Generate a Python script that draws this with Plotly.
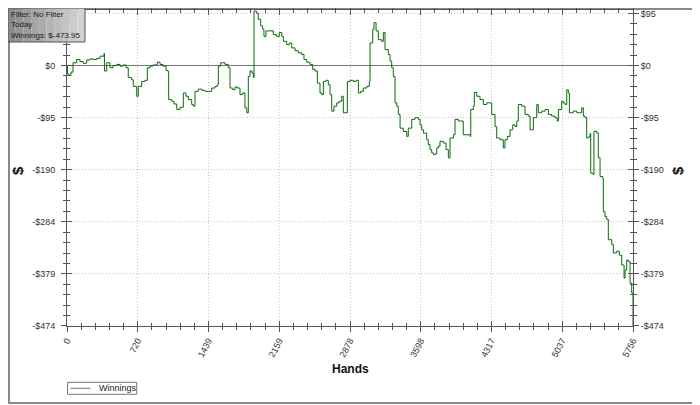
import plotly.graph_objects as go

# --- данные ---
hands = [0, 5, 20, 41, 61, 99, 132, 166, 200, 234, 264, 302, 336, 366, 376, 381, 404, 437, 468, 505,
         539, 573, 600, 623, 658, 674, 709, 725, 760, 793, 817, 844, 875, 918, 946, 976, 1007, 1027, 1034, 1065,
         1088, 1116, 1149, 1183, 1210, 1234, 1268, 1284, 1302, 1335, 1370, 1403, 1437, 1472, 1505, 1529, 1539, 1563, 1607, 1640,
         1658, 1685, 1709, 1732, 1759, 1787, 1810, 1828, 1844, 1861, 1881, 1895, 1902, 1929, 1945, 1970, 1990, 2003, 2024, 2064,
         2098, 2133, 2159, 2184, 2200, 2234, 2261, 2285, 2319, 2352, 2387, 2410, 2438, 2471, 2499, 2522, 2546, 2573, 2590, 2607,
         2634, 2657, 2675, 2692, 2715, 2743, 2769, 2794, 2810, 2837, 2851, 2878, 2912, 2939, 2963, 2987, 3013, 3048, 3074, 3082,
         3109, 3122, 3143, 3166, 3200, 3217, 3234, 3268, 3285, 3302, 3318, 3336, 3353, 3369, 3387, 3420, 3455, 3471, 3506, 3539,
         3573, 3590, 3607, 3624, 3658, 3674, 3692, 3709, 3725, 3743, 3760, 3776, 3793, 3827, 3854, 3878, 3895, 3929, 3946, 3980,
         4014, 4030, 4065, 4099, 4106, 4132, 4142, 4167, 4200, 4234, 4268, 4302, 4319, 4353, 4370, 4404, 4437, 4454, 4478, 4505,
         4533, 4556, 4574, 4590, 4624, 4658, 4691, 4709, 4743, 4777, 4793, 4828, 4861, 4895, 4929, 4963, 4986, 4997, 5031, 5047,
         5065, 5082, 5088, 5098, 5109, 5149, 5184, 5217, 5234, 5251, 5268, 5285, 5301, 5319, 5326, 5349, 5359, 5387, 5403, 5421,
         5448, 5454, 5471, 5489, 5505, 5540, 5556, 5590, 5617, 5641, 5665, 5675, 5692, 5708, 5726, 5743, 5756]
winnings = [0, -15, -18, -12, 5, 11, 7, 4, 10, 12, 11, 13, 17, 17, 22, -10, 5, -4, 0, 2,
            -1, 1, -4, -22, -26, -38, -56, -38, -29, -27, -4, -1, 1, 6, 2, -1, -9, -11, -62, -65,
            -70, -80, -76, -50, -56, -62, -71, -74, -47, -43, -45, -47, -47, -41, -38, -35, -1, 5, 2, -4,
            -41, -44, -39, -41, -53, -50, -77, -86, -20, -10, -14, -22, 99, 95, 84, 72, 66, 53, 63, 63,
            56, 53, 60, 53, 44, 38, 41, 32, 27, 23, 20, 11, 6, 2, -7, -10, -32, -50, -53, -29,
            -27, -35, -53, -83, -74, -68, -65, -56, -86, -86, -29, -27, -29, -27, -50, -47, -41, -38, -29, 41,
            66, 78, 63, 47, 44, 60, 29, 20, 8, -4, -20, -68, -74, -89, -114, -120, -129, -114, -98, -95,
            -98, -108, -117, -123, -135, -144, -153, -159, -162, -161, -150, -147, -138, -141, -153, -168, -132, -126, -98, -101,
            -101, -126, -126, -129, -80, -74, -49, -56, -62, -71, -68, -68, -89, -111, -132, -135, -150, -135, -129, -117,
            -108, -111, -101, -71, -74, -89, -92, -117, -95, -71, -86, -83, -80, -89, -92, -95, -101, -80, -65, -68,
            -71, -44, -44, -50, -86, -83, -86, -86, -77, -92, -95, -132, -130, -124, -196, -198, -120, -123, -168, -202,
            -205, -266, -275, -280, -317, -326, -341, -338, -345, -363, -387, -372, -354, -357, -396, -414, -473.95]

x_ticks = [0, 719.5, 1439, 2158.5, 2878, 3597.5, 4317, 5036.5, 5756]
x_labels = ["0", "720", "1439", "2159", "2878", "3598", "4317", "5037", "5756"]
y_ticks = [94.79, 0, -94.79, -189.58, -284.37, -379.16, -473.95]
y_labels = ["$95", "$0", "-$95", "-$190", "-$284", "-$379", "-$474"]

FONT = "Liberation Sans, Arial, sans-serif"
AXC = "#555555"
GRID = "#c4c4c4"
LINE_C = "#0a6b0a"
TF = dict(family=FONT, size=9, color="#333333")
XR = [0, 5756]
YR = [-474, 101]

fig = go.Figure()
fig.add_trace(go.Scatter(x=hands, y=winnings, mode="lines", line_shape="hv",
                         line=dict(color=LINE_C, width=1), name="Winnings", showlegend=False))
# невидимые копии для правой оси и для внутренних засечек
fig.add_trace(go.Scatter(x=hands, y=winnings, mode="lines", line=dict(width=0),
                         opacity=0, yaxis="y2", showlegend=False, hoverinfo="skip"))
fig.add_trace(go.Scatter(x=hands, y=winnings, mode="lines", line=dict(width=0),
                         opacity=0, xaxis="x2", yaxis="y3", showlegend=False, hoverinfo="skip"))

ymin_out = dict(tick0=0, dtick=18.958, ticks="outside", ticklen=3, tickcolor=AXC, showgrid=False)
ymin_in = dict(ymin_out, ticks="inside")
xmin_out = dict(tick0=0, dtick=143.9, ticks="outside", ticklen=3, tickcolor=AXC, showgrid=False)
xmin_in = dict(xmin_out, ticks="inside")

# слева верхняя метка закрыта плашкой фильтра
left_labels = [""] + y_labels[1:]

yax = dict(range=YR, tickvals=y_ticks, ticktext=left_labels, ticks="outside", ticklen=5,
           tickcolor=AXC, showline=True, linecolor=AXC, linewidth=1, automargin=False,
           showgrid=True, gridcolor=GRID, griddash="1px,2px", gridwidth=1,
           zeroline=True, zerolinecolor="#777777", zerolinewidth=1,
           tickfont=TF, ticklabelstandoff=4, minor=ymin_out)

fig.update_layout(
    width=692, height=397,
    margin=dict(l=59, r=67, t=2, b=79),
    paper_bgcolor="white", plot_bgcolor="white",
    font=dict(family=FONT, size=9, color="#333333"),
    xaxis=dict(range=XR, tickvals=x_ticks, ticktext=x_labels, tickangle=-62, automargin=False,
               ticks="outside", ticklen=5, tickcolor=AXC, showline=True, linecolor=AXC,
               mirror="ticks", showgrid=True, gridcolor=GRID, griddash="1px,2px", zeroline=False,
               tickfont=TF, minor=xmin_out),
    xaxis2=dict(range=XR, overlaying="x", tickvals=x_ticks, showticklabels=False, ticks="inside",
                ticklen=5, tickcolor=AXC, mirror="ticks", showline=False, showgrid=False,
                zeroline=False, automargin=False, minor=xmin_in),
    yaxis=yax,
    yaxis2=dict(yax, overlaying="y", side="right", showgrid=False, zeroline=False,
                ticktext=y_labels, ticklabelstandoff=0),
    yaxis3=dict(range=YR, overlaying="y", tickvals=y_ticks, showticklabels=False, ticks="inside",
                ticklen=5, tickcolor=AXC, mirror="ticks", showline=False, showgrid=False,
                zeroline=False, automargin=False, minor=ymin_in),
    showlegend=False,
)

# подписи осей
fig.add_annotation(text="<b>Hands</b>", x=0.5, y=-0.136, xref="paper", yref="paper",
                   xanchor="center", yanchor="middle", showarrow=False,
                   font=dict(family=FONT, size=12, color="#111111"))
for xp in (-0.0866, 1.0795):
    fig.add_annotation(text="<b>$</b>", x=xp, y=0.494, xref="paper", yref="paper", textangle=-90,
                       xanchor="center", yanchor="middle", showarrow=False,
                       font=dict(family=FONT, size=15, color="#111111"))

# легенда (рамка, образец линии, подпись)
fig.add_shape(type="rect", xref="paper", yref="paper", x0=0.001, x1=0.1231, y0=-0.2161, y1=-0.1782,
              line=dict(color="#777777", width=1), fillcolor="white")
fig.add_shape(type="line", xref="paper", yref="paper", x0=0.0065, x1=0.0419, y0=-0.1972, y1=-0.1972,
              line=dict(color="#4f8f4f", width=1))
fig.add_annotation(text="Winnings", x=0.0525, y=-0.1972, xref="paper", yref="paper",
                   xanchor="left", yanchor="middle", showarrow=False,
                   font=dict(family=FONT, size=9, color="#222222"))

# плашка с фильтром: серый градиент полосами
bx0, bx1 = -0.1042, 0.0318
by0, by1 = 0.8987, 1.0063
grad = ["#8c8c8c", "#949494", "#9c9c9c", "#a4a4a4", "#acacac", "#b4b4b4", "#bcbcbc", "#c4c4c4", "#cbcbcb", "#d2d2d2"]
step = (bx1 - bx0) / len(grad)
for i, c in enumerate(grad):
    fig.add_shape(type="rect", xref="paper", yref="paper", x0=bx0 + i * step, x1=bx0 + (i + 1) * step,
                  y0=by0, y1=by1, line=dict(width=0), fillcolor=c)
fig.add_shape(type="rect", xref="paper", yref="paper", x0=bx0, x1=bx1, y0=by0, y1=by1,
              line=dict(color="#555555", width=1))
fig.add_annotation(text="Filter: No Filter<br>Today<br>Winnings: $-473.95", x=bx0 + 0.003, y=by1 - 0.004,
                   xref="paper", yref="paper", xanchor="left", yanchor="top", align="left",
                   showarrow=False, borderpad=0, font=dict(family=FONT, size=8, color="#1a1a1a"))

# рамка вокруг всей картинки
fig.add_shape(type="rect", xref="paper", yref="paper", x0=-0.1025, x1=1.1148, y0=-0.2437, y1=1.0032,
              line=dict(color="#888888", width=2), layer="below")

fig.write_html("out.html")
